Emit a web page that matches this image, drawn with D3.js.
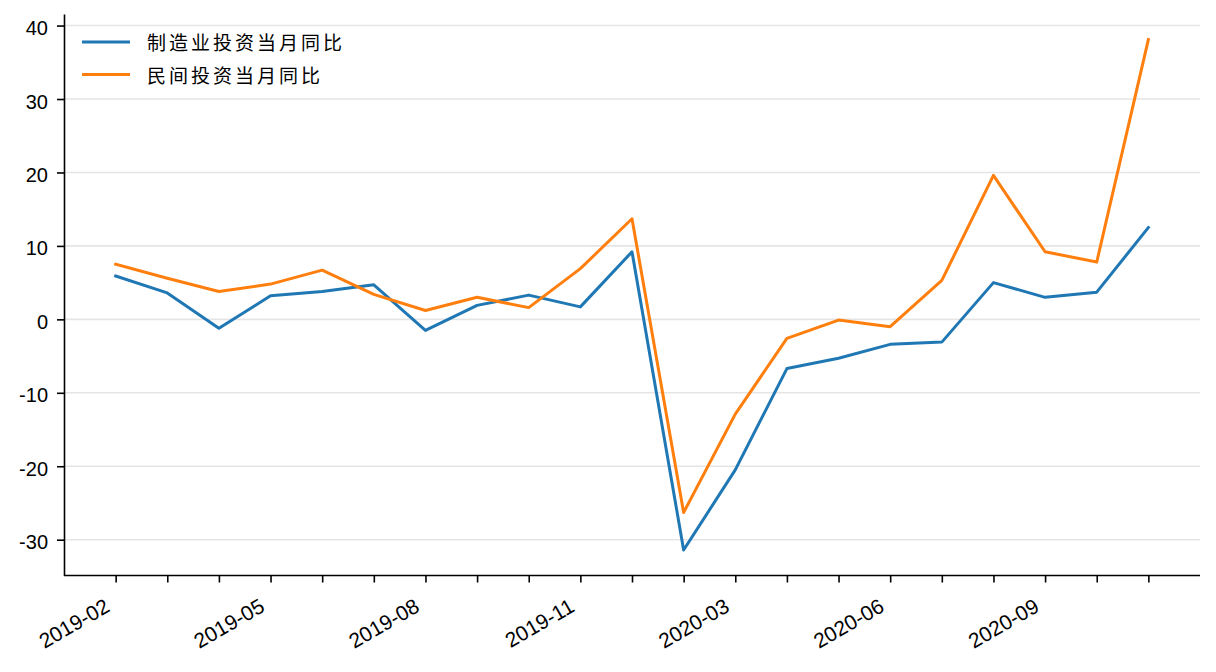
<!DOCTYPE html>
<html><head><meta charset="utf-8">
<script src="https://cdn.jsdelivr.net/npm/d3@7"></script>
<style>body{margin:0;background:#fff}</style>
</head><body>
<svg id="c" width="1216" height="672"></svg>
<script>
const categories = ["2019-02","2019-03","2019-04","2019-05","2019-06","2019-07","2019-08","2019-09","2019-10","2019-11","2019-12",
  "2020-02","2020-03","2020-04","2020-05","2020-06","2020-07","2020-08","2020-09","2020-10","2020-11"];
const manufacturing = [5.9, 3.6, -1.2, 3.2, 3.8, 4.7, -1.5, 1.9, 3.3, 1.7, 9.2, -31.4, -20.5, -6.7, -5.3, -3.4, -3.1, 5.0, 3.0, 3.7, 12.5];
const privateInv = [7.5, 5.6, 3.8, 4.8, 6.7, 3.4, 1.2, 3.0, 1.6, 6.9, 13.7, -26.3, -12.9, -2.6, -0.1, -1.0, 5.3, 19.6, 9.2, 7.8, 38.1];
const yTicks = [-30, -20, -10, 0, 10, 20, 30, 40];
const seriesNames = ["制造业投资当月同比", "民间投资当月同比"];
const colors = ["#1f77b4", "#ff7f0e"];

const svg = d3.select("#c");
svg.append("rect").attr("width",1216).attr("height",672).attr("fill","#fff");

const L = 64, R = 1200, T = 14, B = 575.5;
const x = d3.scaleLinear().domain([-1, categories.length]).range([L, R]);
const all = manufacturing.concat(privateInv);
const [mn, mx] = d3.extent(all);
const pad = (mx - mn) * 0.05;
const y = d3.scaleLinear().domain([mn - pad, mx + pad]).range([B, T]);

// grid
svg.append("g").selectAll("line").data(yTicks).join("line")
  .attr("x1", L).attr("x2", R)
  .attr("y1", d => y(d)).attr("y2", d => y(d))
  .attr("stroke", "#e5e5e5").attr("stroke-width", 1.6);

// lines
const line = d3.line().x((d, i) => x(i)).y(d => y(d));
[manufacturing, privateInv].forEach((s, k) => {
  svg.append("path").datum(s).attr("d", line)
    .attr("fill", "none").attr("stroke", colors[k]).attr("stroke-width", 3)
    .attr("stroke-linejoin", "round").attr("stroke-linecap", "square");
});

// y axis
const ya = svg.append("g").attr("transform", `translate(${L},0)`)
  .call(d3.axisLeft(y).tickValues(yTicks).tickSize(7).tickSizeOuter(0).tickPadding(9).tickFormat(d3.format("d")));
ya.select(".domain").attr("stroke", "#000").attr("stroke-width", 1.6);
ya.selectAll(".tick line").attr("stroke", "#000").attr("stroke-width", 1.6);
ya.selectAll(".tick text").attr("font-family", "'Liberation Sans', Arial, sans-serif")
  .attr("font-size", 20).attr("fill", "#000").attr("dy", "0.45em")
  .text(d => String(d).replace("−", "-"));

// x axis
const xa = svg.append("g").attr("transform", `translate(0,${B})`)
  .call(d3.axisBottom(x).tickValues(d3.range(categories.length)).tickSize(7).tickSizeOuter(0)
    .tickFormat(i => i % 3 === 0 ? categories[i] : ""));
xa.select(".domain").attr("stroke", "#000").attr("stroke-width", 1.6)
  .attr("d", `M${L},0H${R}`);
xa.selectAll(".tick line").attr("stroke", "#000").attr("stroke-width", 1.6);
xa.selectAll(".tick text").attr("font-family", "'Liberation Sans', Arial, sans-serif")
  .attr("font-size", 21).attr("fill", "#000")
  .attr("x", -5).attr("y", 35).attr("dy", 0).attr("text-anchor", "end")
  .attr("transform", "rotate(-30,-5,35)");

// legend
const lg = svg.append("g");
seriesNames.forEach((n, k) => {
  const ly = 42 + k * 32.6;
  lg.append("line").attr("x1", 82).attr("x2", 130).attr("y1", ly).attr("y2", ly)
    .attr("stroke", colors[k]).attr("stroke-width", 3);
  lg.append("text").attr("x", 147).attr("y", ly + 8)
    .attr("font-family", "'Noto Sans CJK SC', sans-serif").attr("font-size", 19)
    .attr("letter-spacing", "3px").attr("fill", "#000").text(n);
});
</script>
</body></html>
